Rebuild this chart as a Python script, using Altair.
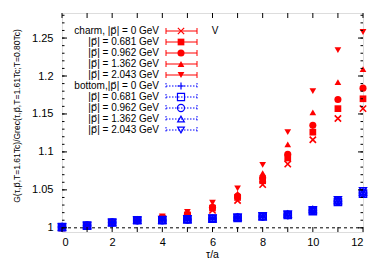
import altair as alt
import pandas as pd

tau = list(range(13))

charm_p0 = [1.000, 1.003, 1.007, 1.010, 1.012, 1.016, 1.023, 1.036, 1.057, 1.084, 1.116, 1.144, 1.157]
charm_p1 = [1.000, 1.003, 1.007, 1.010, 1.013, 1.017, 1.026, 1.040, 1.062, 1.092, 1.126, 1.157, 1.170]
charm_p2 = [1.000, 1.003, 1.007, 1.010, 1.013, 1.018, 1.027, 1.042, 1.066, 1.097, 1.135, 1.169, 1.184]
charm_p3 = [1.000, 1.003, 1.007, 1.010, 1.014, 1.019, 1.029, 1.045, 1.072, 1.110, 1.152, 1.192, 1.209]
charm_p4 = [1.000, 1.003, 1.007, 1.010, 1.015, 1.021, 1.033, 1.052, 1.083, 1.126, 1.180, 1.234, 1.258]

bottom_p0 = [1.001, 1.003, 1.007, 1.010, 1.010, 1.011, 1.012, 1.013, 1.014, 1.016, 1.022, 1.034, 1.044]
bottom_p1 = [1.001, 1.003, 1.007, 1.010, 1.010, 1.011, 1.012, 1.013, 1.015, 1.017, 1.022, 1.034, 1.045]
bottom_p2 = [1.001, 1.003, 1.007, 1.010, 1.010, 1.011, 1.012, 1.0135, 1.015, 1.017, 1.023, 1.035, 1.046]
bottom_p3 = [1.001, 1.003, 1.007, 1.010, 1.010, 1.011, 1.012, 1.014, 1.015, 1.018, 1.024, 1.036, 1.047]
bottom_p4 = [1.001, 1.003, 1.007, 1.010, 1.011, 1.012, 1.013, 1.014, 1.016, 1.018, 1.024, 1.037, 1.049]

legend_labels = [
    "charm, |p\u20d7| = 0 GeV",
    "|p\u20d7| = 0.681 GeV",
    "|p\u20d7| = 0.962 GeV",
    "|p\u20d7| = 1.362 GeV",
    "|p\u20d7| = 2.043 GeV",
    "bottom,|p\u20d7| = 0 GeV",
    "|p\u20d7| = 0.681 GeV",
    "|p\u20d7| = 0.962 GeV",
    "|p\u20d7| = 1.362 GeV",
    "|p\u20d7| = 2.043 GeV",
]

y_title = "G(\u03c4,p\u20d7,T=1.61Tc)/Grec(\u03c4,p\u20d7,T=1.61Tc;T=0.80Tc)"
x_title = "\u03c4/a"

y_major = [1.0, 1.05, 1.1, 1.15, 1.2, 1.25]
y_minor = [round(1.0 + 0.01 * i, 2) for i in range(0, 29)]
x_major = list(range(13))

W, H = 301, 219
RED = "#ff0000"
BLUE = "#0000ff"
FONT = "Liberation Sans"
FONT2 = "Liberation Sans, DejaVu Sans"

XPATH = "M-1,-1L1,1M-1,1L1,-1"
PLUSPATH = "M-1,0L1,0M0,-1L0,1"

xs = alt.Scale(domain=[0, 12], nice=False, zero=False)
ys = alt.Scale(domain=[0.9945, 1.283], nice=False, zero=False)

series = [
    (charm_p0, RED, XPATH, False, 40),
    (charm_p1, RED, "square", True, 45),
    (charm_p2, RED, "circle", True, 50),
    (charm_p3, RED, "triangle-up", True, 45),
    (charm_p4, RED, "triangle-down", True, 45),
    (bottom_p0, BLUE, PLUSPATH, False, 50),
    (bottom_p1, BLUE, "square", False, 50),
    (bottom_p2, BLUE, "circle", False, 50),
    (bottom_p3, BLUE, "triangle-up", False, 45),
    (bottom_p4, BLUE, "triangle-down", False, 45),
]

layers = []

base_x = alt.X("tau:Q", scale=xs,
               axis=alt.Axis(values=x_major, ticks=False, domain=False, grid=False,
                             labelFont=FONT, labelFontSize=11, labelColor="black",
                             labelPadding=4, title=None))
base_y = alt.Y("v:Q", scale=ys,
               axis=alt.Axis(values=y_major, format="~g", ticks=False, domain=False, grid=False,
                             labelFont=FONT, labelFontSize=11, labelColor="black",
                             labelPadding=9, title=None))

one_df = pd.DataFrame({"v": [1.0]})
layers.append(alt.Chart(one_df).mark_rule(color="black", strokeDash=[3, 3], strokeWidth=1).encode(
    y=alt.Y("v:Q", scale=ys), x=alt.value(0), x2=alt.value(W)))

for vals, col, shape, filled, size in series:
    df = pd.DataFrame({"tau": tau, "v": vals})
    if filled:
        m = alt.Chart(df).mark_point(shape=shape, filled=True, color=col, size=size, opacity=1)
    else:
        m = alt.Chart(df).mark_point(shape=shape, filled=False, color=col, size=size,
                                     strokeWidth=1.6, opacity=1)
    layers.append(m.encode(x=base_x, y=base_y))

ymaj_df = pd.DataFrame({"v": y_major})
ymin_df = pd.DataFrame({"v": y_minor})
xmaj_df = pd.DataFrame({"tau": x_major})
tick_style = dict(color="black", strokeWidth=1)
layers.append(alt.Chart(ymaj_df).mark_rule(**tick_style).encode(
    y=alt.Y("v:Q", scale=ys), x=alt.value(0), x2=alt.value(5)))
layers.append(alt.Chart(ymaj_df).mark_rule(**tick_style).encode(
    y=alt.Y("v:Q", scale=ys), x=alt.value(W - 5), x2=alt.value(W)))
layers.append(alt.Chart(ymin_df).mark_rule(**tick_style).encode(
    y=alt.Y("v:Q", scale=ys), x=alt.value(0), x2=alt.value(2.5)))
layers.append(alt.Chart(ymin_df).mark_rule(**tick_style).encode(
    y=alt.Y("v:Q", scale=ys), x=alt.value(W - 2.5), x2=alt.value(W)))
layers.append(alt.Chart(xmaj_df).mark_rule(**tick_style).encode(
    x=alt.X("tau:Q", scale=xs), y=alt.value(0), y2=alt.value(5)))
layers.append(alt.Chart(xmaj_df).mark_rule(**tick_style).encode(
    x=alt.X("tau:Q", scale=xs), y=alt.value(H - 5), y2=alt.value(H)))

dummy = pd.DataFrame({"a": [0]})

layers.append(alt.Chart(dummy).mark_text(text=y_title, angle=270, align="center", baseline="middle",
                                         font=FONT2, fontSize=8.5, color="black").encode(
    x=alt.value(-45), y=alt.value(103)))
layers.append(alt.Chart(dummy).mark_text(text=x_title, align="center", baseline="alphabetic",
                                         font=FONT, fontSize=10.5, color="black").encode(
    x=alt.value(W / 2), y=alt.value(H + 26)))

row0 = 18
step = 11
tx, lx0, lx1, mx = 97, 104, 135, 119
for i, (lab, (vals, col, shape, filled, size)) in enumerate(zip(legend_labels, series)):
    yy = row0 + i * step
    dash = [] if col == RED else [1.5, 1.5]
    layers.append(alt.Chart(dummy).mark_text(text=lab, align="right", baseline="middle",
                                             font=FONT2, fontSize=10, color="black").encode(
        x=alt.value(tx), y=alt.value(yy)))
    rk = dict(color=col, strokeWidth=1)
    if dash:
        rk["strokeDash"] = dash
    layers.append(alt.Chart(dummy).mark_rule(**rk).encode(
        x=alt.value(lx0), x2=alt.value(lx1), y=alt.value(yy)))
    layers.append(alt.Chart(dummy).mark_rule(**rk).encode(
        x=alt.value(lx0), y=alt.value(yy - 3), y2=alt.value(yy + 3)))
    layers.append(alt.Chart(dummy).mark_rule(**rk).encode(
        x=alt.value(lx1), y=alt.value(yy - 3), y2=alt.value(yy + 3)))
    if filled:
        pm = alt.Chart(dummy).mark_point(shape=shape, filled=True, color=col, size=size, opacity=1)
    else:
        pm = alt.Chart(dummy).mark_point(shape=shape, filled=False, color=col, size=size,
                                         strokeWidth=1.2, opacity=1)
    layers.append(pm.encode(x=alt.value(mx), y=alt.value(yy)))

layers.append(alt.Chart(dummy).mark_text(text="V", align="center", baseline="middle",
                                         font=FONT, fontSize=10, color="black").encode(
    x=alt.value(153), y=alt.value(row0)))

chart = alt.layer(*layers).properties(
    width=W, height=H,
    autosize=alt.AutoSizeParams(type="none"),
    padding={"left": 54, "top": 5, "right": 10, "bottom": 27},
).configure_view(stroke="black", strokeWidth=1.2).configure(background="white")

chart.save("out.html", embed_options={"renderer": "svg", "actions": False})
